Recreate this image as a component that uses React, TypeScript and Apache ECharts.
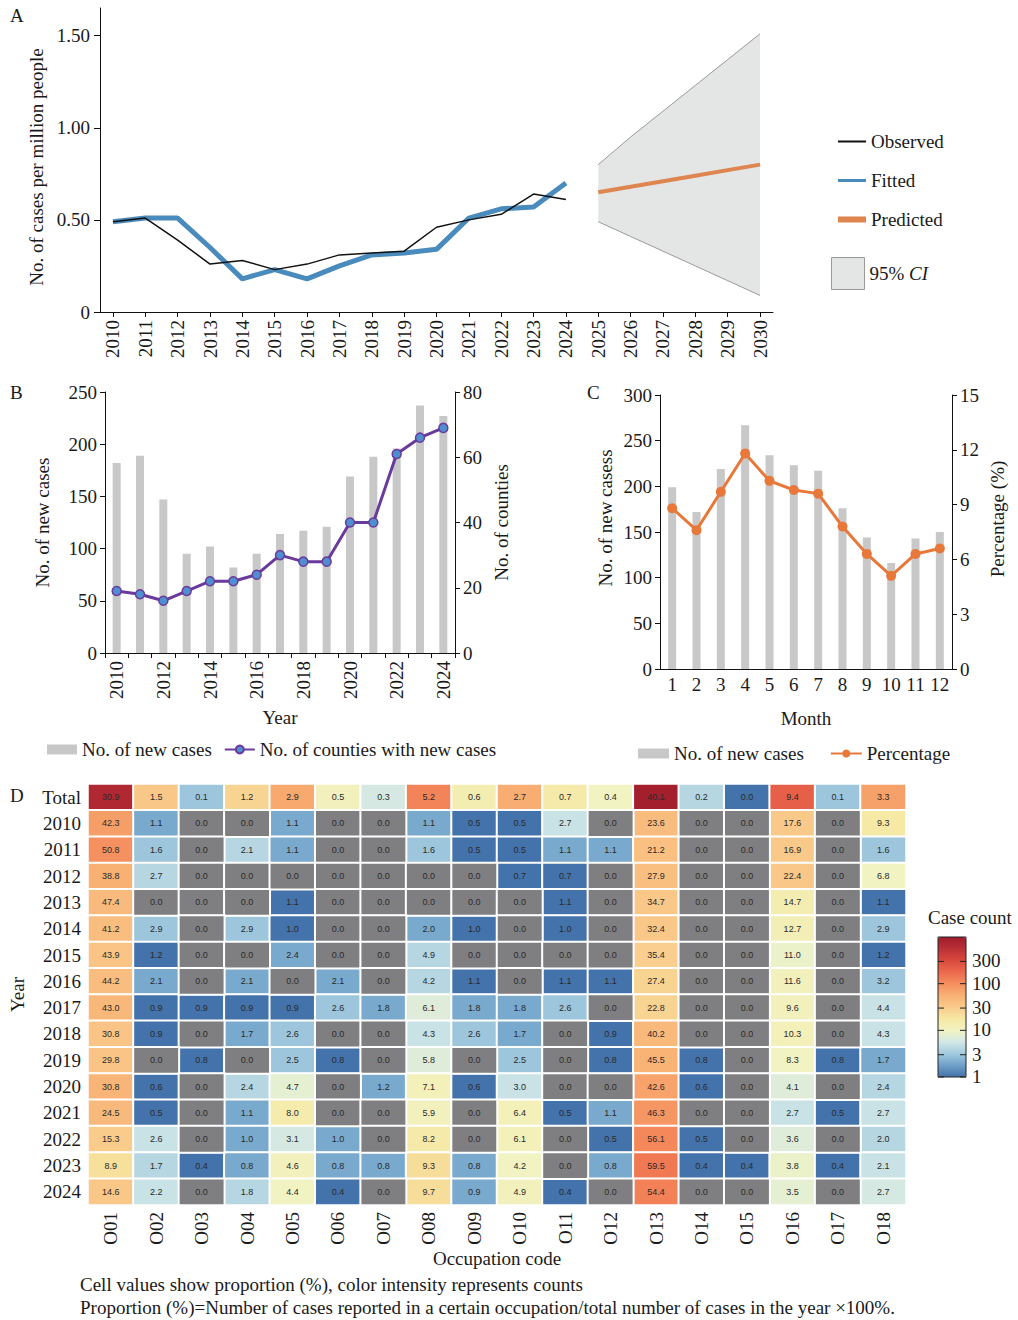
import React, { useEffect, useRef } from 'react';
import * as echarts from 'echarts';

// ---------- Panel A ----------
const yearsA = [2010, 2011, 2012, 2013, 2014, 2015, 2016, 2017, 2018, 2019, 2020, 2021, 2022, 2023, 2024, 2025, 2026, 2027, 2028, 2029, 2030];
const obsYears = [2010, 2011, 2012, 2013, 2014, 2015, 2016, 2017, 2018, 2019, 2020, 2021, 2022, 2023, 2024];
const observed = [0.49, 0.51, 0.39, 0.26, 0.28, 0.23, 0.26, 0.31, 0.32, 0.33, 0.46, 0.5, 0.53, 0.64, 0.61];
const fitted = [0.49, 0.51, 0.51, 0.35, 0.18, 0.23, 0.18, 0.25, 0.31, 0.32, 0.34, 0.51, 0.56, 0.57, 0.7];
const predYears = [2025, 2026, 2027, 2028, 2029, 2030];
const predicted = [0.65, 0.68, 0.71, 0.74, 0.77, 0.8];
const ciLower = [0.49, 0.41, 0.33, 0.25, 0.17, 0.09];
const ciUpper = [0.8, 0.95, 1.09, 1.23, 1.37, 1.51];
const yTicksA = [0, 0.5, 1, 1.5];

// ---------- Panel B ----------
const yearCats = ['2010', '2011', '2012', '2013', '2014', '2015', '2016', '2017', '2018', '2019', '2020', '2021', '2022', '2023', '2024'];
const newCases = [182, 189, 147, 95, 102, 82, 95, 114, 117, 121, 169, 188, 196, 237, 227];
const counties = [19, 18, 16, 19, 22, 22, 24, 30, 28, 28, 40, 40, 61, 66, 69];

// ---------- Panel C ----------
const months = ['1', '2', '3', '4', '5', '6', '7', '8', '9', '10', '11', '12'];
const monthCases = [199, 172, 219, 267, 234, 223, 217, 176, 144, 116, 143, 150];
const monthPct = [8.8, 7.6, 9.7, 11.8, 10.3, 9.8, 9.6, 7.8, 6.3, 5.1, 6.3, 6.6];

// ---------- Panel D ----------
const occCodes = ['O01', 'O02', 'O03', 'O04', 'O05', 'O06', 'O07', 'O08', 'O09', 'O10', 'O11', 'O12', 'O13', 'O14', 'O15', 'O16', 'O17', 'O18'];
const rowLabels = ['Total', ...yearCats];
const pctTotal = [30.9, 1.5, 0.1, 1.2, 2.9, 0.5, 0.3, 5.2, 0.6, 2.7, 0.7, 0.4, 40.1, 0.2, 0.0, 9.4, 0.1, 3.3];
const pct2010 = [42.3, 1.1, 0.0, 0.0, 1.1, 0.0, 0.0, 1.1, 0.5, 0.5, 2.7, 0.0, 23.6, 0.0, 0.0, 17.6, 0.0, 9.3];
const pct2011 = [50.8, 1.6, 0.0, 2.1, 1.1, 0.0, 0.0, 1.6, 0.5, 0.5, 1.1, 1.1, 21.2, 0.0, 0.0, 16.9, 0.0, 1.6];
const pct2012 = [38.8, 2.7, 0.0, 0.0, 0.0, 0.0, 0.0, 0.0, 0.0, 0.7, 0.7, 0.0, 27.9, 0.0, 0.0, 22.4, 0.0, 6.8];
const pct2013 = [47.4, 0.0, 0.0, 0.0, 1.1, 0.0, 0.0, 0.0, 0.0, 0.0, 1.1, 0.0, 34.7, 0.0, 0.0, 14.7, 0.0, 1.1];
const pct2014 = [41.2, 2.9, 0.0, 2.9, 1.0, 0.0, 0.0, 2.0, 1.0, 0.0, 1.0, 0.0, 32.4, 0.0, 0.0, 12.7, 0.0, 2.9];
const pct2015 = [43.9, 1.2, 0.0, 0.0, 2.4, 0.0, 0.0, 4.9, 0.0, 0.0, 0.0, 0.0, 35.4, 0.0, 0.0, 11.0, 0.0, 1.2];
const pct2016 = [44.2, 2.1, 0.0, 2.1, 0.0, 2.1, 0.0, 4.2, 1.1, 0.0, 1.1, 1.1, 27.4, 0.0, 0.0, 11.6, 0.0, 3.2];
const pct2017 = [43.0, 0.9, 0.9, 0.9, 0.9, 2.6, 1.8, 6.1, 1.8, 1.8, 2.6, 0.0, 22.8, 0.0, 0.0, 9.6, 0.0, 4.4];
const pct2018 = [30.8, 0.9, 0.0, 1.7, 2.6, 0.0, 0.0, 4.3, 2.6, 1.7, 0.0, 0.9, 40.2, 0.0, 0.0, 10.3, 0.0, 4.3];
const pct2019 = [29.8, 0.0, 0.8, 0.0, 2.5, 0.8, 0.0, 5.8, 0.0, 2.5, 0.0, 0.8, 45.5, 0.8, 0.0, 8.3, 0.8, 1.7];
const pct2020 = [30.8, 0.6, 0.0, 2.4, 4.7, 0.0, 1.2, 7.1, 0.6, 3.0, 0.0, 0.0, 42.6, 0.6, 0.0, 4.1, 0.0, 2.4];
const pct2021 = [24.5, 0.5, 0.0, 1.1, 8.0, 0.0, 0.0, 5.9, 0.0, 6.4, 0.5, 1.1, 46.3, 0.0, 0.0, 2.7, 0.5, 2.7];
const pct2022 = [15.3, 2.6, 0.0, 1.0, 3.1, 1.0, 0.0, 8.2, 0.0, 6.1, 0.0, 0.5, 56.1, 0.5, 0.0, 3.6, 0.0, 2.0];
const pct2023 = [8.9, 1.7, 0.4, 0.8, 4.6, 0.8, 0.8, 9.3, 0.8, 4.2, 0.0, 0.8, 59.5, 0.4, 0.4, 3.8, 0.4, 2.1];
const pct2024 = [14.6, 2.2, 0.0, 1.8, 4.4, 0.4, 0.0, 9.7, 0.9, 4.9, 0.4, 0.0, 54.4, 0.0, 0.0, 3.5, 0.0, 2.7];
const colorbarTicks = [300, 100, 30, 10, 3, 1];

const pctRows = [pct2010, pct2011, pct2012, pct2013, pct2014, pct2015, pct2016, pct2017, pct2018, pct2019, pct2020, pct2021, pct2022, pct2023, pct2024];

const SERIF = '"Liberation Serif", "Times New Roman", Times, serif';
const SANS = '"Liberation Sans", Arial, sans-serif';
const TXT = '#1a1a1a';
const ZERO_GRAY = '#7f7f81';

function buildOption() {
  const yearCounts = pctRows.map((row, r) => row.map((p) => Math.round((p * newCases[r]) / 100)));
  const totalCounts = occCodes.map((_, c) => yearCounts.reduce((s, row) => s + row[c], 0));
  const allPct = [pctTotal, ...pctRows];
  const allCounts = [totalCounts, ...yearCounts];
  const heatData: any[] = [];
  const zeroData: any[] = [];
  allPct.forEach((row, r) =>
    row.forEach((p, c) => {
      const n = allCounts[r][c];
      if (n > 0) heatData.push([c, r, Math.log10(n), p]);
      else zeroData.push([c, r, 0, p]);
    })
  );

  const label = (extra: any = {}) => ({ color: TXT, fontSize: 19, fontFamily: SERIF, ...extra });
  const line = { show: true, lineStyle: { color: '#111', width: 1 } };
  const tick = (extra: any = {}) => ({ show: true, length: 5, lineStyle: { color: '#111', width: 1 }, ...extra });
  const nameStyle = (extra: any = {}) => ({ color: TXT, fontSize: 19, fontFamily: SERIF, ...extra });

  // colorbar graphics
  const cbLeft = 938, cbTop = 937, cbW = 28, cbH = 140;
  const cbY = (v: number) => cbTop + (1 - Math.log10(v) / 3) * cbH;
  const cbGraphics: any[] = [];
  colorbarTicks.forEach((v) => {
    const y = cbY(v);
    cbGraphics.push({ type: 'text', left: cbLeft + cbW + 6, top: y - 10, style: { text: String(v), fontSize: 19, fontFamily: SERIF, fill: TXT } });
    cbGraphics.push({ type: 'line', shape: { x1: cbLeft, y1: y, x2: cbLeft + 6, y2: y }, style: { stroke: '#222', lineWidth: 1 }, z: 100 });
    cbGraphics.push({ type: 'line', shape: { x1: cbLeft + cbW - 6, y1: y, x2: cbLeft + cbW, y2: y }, style: { stroke: '#222', lineWidth: 1 }, z: 100 });
  });
  cbGraphics.push({ type: 'rect', shape: { x: cbLeft, y: cbTop, width: cbW, height: cbH }, style: { fill: 'none', stroke: '#222', lineWidth: 1 }, z: 100 });
  cbGraphics.push({ type: 'text', left: 928, top: 908, style: { text: 'Case count', fontSize: 19, fontFamily: SERIF, fill: TXT } });

  const panelLetter = (t: string, x: number, y: number) => ({ type: 'text', left: x, top: y, style: { text: t, fontSize: 19, fontFamily: SERIF, fill: TXT } });

  const heatLabel = {
    show: true, fontSize: 9, fontFamily: SANS, color: '#2a2a2a',
    formatter: (p: any) => Number(p.value[3]).toFixed(1),
  };

  return {
    animation: false,
    backgroundColor: '#ffffff',
    textStyle: { fontFamily: SERIF },
    grid: [
      { left: 100, top: 8, width: 673, height: 304 },
      { left: 105, top: 392, width: 350, height: 261 },
      { left: 660, top: 395, width: 292, height: 274 },
      { left: 87, top: 784, width: 819, height: 421 },
    ],
    xAxis: [
      {
        type: 'value', gridIndex: 0, min: 2009.6, max: 2030.4,
        axisLine: { ...line, onZero: false },
        axisTick: tick({ customValues: yearsA }),
        axisLabel: label({ customValues: yearsA, rotate: 90, margin: 8, formatter: (v: number) => String(v) }),
        splitLine: { show: false },
      },
      {
        type: 'category', gridIndex: 1, data: yearCats, boundaryGap: true,
        axisLine: line,
        axisTick: tick({ interval: 0, alignWithLabel: false }),
        axisLabel: label({ interval: 1, rotate: 90, margin: 8 }),
        name: 'Year', nameLocation: 'middle', nameGap: 55, nameTextStyle: nameStyle(),
      },
      {
        type: 'category', gridIndex: 2, data: months, boundaryGap: true,
        axisLine: line,
        axisTick: { show: false },
        axisLabel: label({ interval: 0, margin: 6 }),
        name: 'Month', nameLocation: 'middle', nameGap: 40, nameTextStyle: nameStyle(),
      },
      {
        type: 'category', gridIndex: 3, data: occCodes,
        axisLine: { show: false }, axisTick: { show: false },
        axisLabel: label({ interval: 0, rotate: 90, margin: 7 }),
        splitArea: { show: false },
        name: 'Occupation code', nameLocation: 'middle', nameGap: 43, nameTextStyle: nameStyle(),
      },
    ],
    yAxis: [
      {
        type: 'value', gridIndex: 0, min: 0, max: 1.65,
        axisLine: line,
        axisTick: tick({ customValues: yTicksA, length: 6 }),
        axisLabel: label({ customValues: yTicksA, margin: 10, formatter: (v: number) => (v === 0 ? '0' : v.toFixed(2)) }),
        splitLine: { show: false },
        name: 'No. of cases per million people', nameLocation: 'middle', nameGap: 52, nameRotate: 90,
        nameTextStyle: nameStyle({ padding: [0, 14, 0, 0] }),
      },
      {
        type: 'value', gridIndex: 1, min: 0, max: 250, interval: 50, position: 'left',
        axisLine: line, axisTick: tick(), axisLabel: label({ margin: 8 }), splitLine: { show: false },
        name: 'No. of new cases', nameLocation: 'middle', nameGap: 53, nameTextStyle: nameStyle(),
      },
      {
        type: 'value', gridIndex: 1, min: 0, max: 80, interval: 20, position: 'right',
        axisLine: line, axisTick: tick(), axisLabel: label({ margin: 8 }), splitLine: { show: false },
        name: 'No. of counties', nameLocation: 'middle', nameGap: 37, nameTextStyle: nameStyle(),
      },
      {
        type: 'value', gridIndex: 2, min: 0, max: 300, interval: 50, position: 'left',
        axisLine: line, axisTick: tick(), axisLabel: label({ margin: 8 }), splitLine: { show: false },
        name: 'No. of new casess', nameLocation: 'middle', nameGap: 45, nameTextStyle: nameStyle({ padding: [0, 0, 0, 28] }),
      },
      {
        type: 'value', gridIndex: 2, min: 0, max: 15, interval: 3, position: 'right',
        axisLine: line, axisTick: tick(), axisLabel: label({ margin: 8 }), splitLine: { show: false },
        name: 'Percentage (%)', nameLocation: 'middle', nameGap: 36, nameTextStyle: nameStyle({ padding: [0, 0, 0, 26] }),
      },
      {
        type: 'category', gridIndex: 3, data: rowLabels, inverse: true,
        axisLine: { show: false }, axisTick: { show: false },
        axisLabel: label({ interval: 0, margin: 7 }),
        splitArea: { show: false },
        name: 'Year', nameLocation: 'middle', nameGap: 61, nameTextStyle: nameStyle(),
      },
    ],
    legend: [
      {
        orient: 'vertical', left: 830, top: 127, itemWidth: 28, itemHeight: 2, itemGap: 20,
        textStyle: { color: TXT, fontSize: 19, fontFamily: SERIF },
        data: [
          { name: 'Observed', lineStyle: { width: 2 }, itemStyle: { opacity: 0 } },
          { name: 'Fitted', lineStyle: { width: 3 }, itemStyle: { opacity: 0 } },
          { name: 'Predicted', lineStyle: { width: 6 }, itemStyle: { opacity: 0 } },
        ],
        selectedMode: false,
      },
      {
        orient: 'vertical', left: 826, top: 252, itemWidth: 33, itemHeight: 32,
        textStyle: { color: TXT, fontSize: 19, fontFamily: SERIF, rich: { i: { fontStyle: 'italic', fontSize: 19, fontFamily: SERIF, color: TXT } } },
        formatter: () => '95% {i|CI}',
        data: [{ name: '95% CI', icon: 'rect', itemStyle: { color: '#e4e5e5', borderColor: '#9a9a9a', borderWidth: 1 } }],
        selectedMode: false,
      },
      {
        left: 42, top: 735, itemWidth: 30, itemHeight: 10, itemGap: 12,
        textStyle: { color: TXT, fontSize: 19, fontFamily: SERIF },
        data: [{ name: 'No. of new cases', icon: 'rect' }, { name: 'No. of counties with new cases' }],
        selectedMode: false,
      },
      {
        left: 633, top: 739, itemWidth: 31, itemHeight: 10, itemGap: 26,
        textStyle: { color: TXT, fontSize: 19, fontFamily: SERIF },
        data: [{ name: 'No. of new cases', icon: 'rect' }, { name: 'Percentage' }],
        selectedMode: false,
      },
    ],
    visualMap: [
      {
        type: 'continuous', seriesIndex: 8, dimension: 2, min: 0, max: 3,
        calculable: false, orient: 'vertical', left: cbLeft, top: cbTop, itemWidth: cbW, itemHeight: cbH,
        padding: 0, text: null, hoverLink: false,
        inRange: {
          color: ['#4472ab', '#6fa0c8', '#a2cadf', '#d2e8e6', '#f1f3c3', '#f6e8a4', '#f9c98a', '#f8b274', '#f58e5e', '#ec6a4e', '#d9483c', '#b93036', '#a01c2c'],
        },
      },
      {
        type: 'continuous', seriesIndex: 9, dimension: 2, min: 0, max: 1, show: false,
        inRange: { color: [ZERO_GRAY, ZERO_GRAY] },
      },
    ],
    graphic: [
      panelLetter('A', 10, 6),
      panelLetter('B', 10, 383),
      panelLetter('C', 587, 383),
      panelLetter('D', 10, 786),
      { type: 'text', left: 80, top: 1275, style: { text: 'Cell values show proportion (%), color intensity represents counts', fontSize: 19, fontFamily: SERIF, fill: TXT } },
      { type: 'text', left: 80, top: 1298, style: { text: 'Proportion (%)=Number of cases reported in a certain occupation/total number of cases in the year \u00d7100%.', fontSize: 19, fontFamily: SERIF, fill: TXT } },
      ...cbGraphics,
    ],
    series: [
      {
        name: 'Observed', type: 'line', xAxisIndex: 0, yAxisIndex: 0, symbol: 'none',
        data: obsYears.map((y, i) => [y, observed[i]]),
        lineStyle: { color: '#111', width: 1.5 }, itemStyle: { color: '#111' }, z: 4,
      },
      {
        name: 'Fitted', type: 'line', xAxisIndex: 0, yAxisIndex: 0, symbol: 'none',
        data: obsYears.map((y, i) => [y, fitted[i]]),
        lineStyle: { color: '#4a8bbd', width: 5 }, itemStyle: { color: '#2f7ab5' }, z: 3,
      },
      {
        name: 'Predicted', type: 'line', xAxisIndex: 0, yAxisIndex: 0, symbol: 'none',
        data: predYears.map((y, i) => [y, predicted[i]]),
        lineStyle: { color: '#de8550', width: 4 }, itemStyle: { color: '#e08a55' }, z: 4,
      },
      {
        name: '95% CI', type: 'custom', xAxisIndex: 0, yAxisIndex: 0, z: 1,
        data: predYears.map((y, i) => [y, ciLower[i], ciUpper[i]]),
        encode: { x: 0, y: [1, 2] },
        itemStyle: { color: '#e4e5e5' },
        renderItem: (params: any, api: any) => {
          if (params.dataIndex !== 0) return { type: 'group', children: [] };
          const up = predYears.map((y, i) => api.coord([y, ciUpper[i]]));
          const lo = predYears.map((y, i) => api.coord([y, ciLower[i]]));
          const poly = [...up, ...[...lo].reverse()];
          return {
            type: 'group',
            children: [
              { type: 'polygon', shape: { points: poly }, style: { fill: '#e4e5e5', stroke: 'none' } },
              { type: 'polyline', shape: { points: up }, style: { fill: 'none', stroke: '#9a9a9a', lineWidth: 1 } },
              { type: 'polyline', shape: { points: lo }, style: { fill: 'none', stroke: '#9a9a9a', lineWidth: 1 } },
            ],
          };
        },
      },
      {
        name: 'No. of new cases', type: 'bar', xAxisIndex: 1, yAxisIndex: 1, barWidth: 8,
        data: newCases, itemStyle: { color: '#c8c8c8' },
      },
      {
        name: 'No. of counties with new cases', type: 'line', xAxisIndex: 1, yAxisIndex: 2,
        data: counties, symbol: 'circle', symbolSize: 9,
        lineStyle: { color: '#6a3a9c', width: 3 },
        itemStyle: { color: '#4f8fd0', borderColor: '#6a3a9c', borderWidth: 1.5 }, z: 5,
      },
      {
        name: 'No. of new cases', type: 'bar', xAxisIndex: 2, yAxisIndex: 3, barWidth: 8,
        data: monthCases, itemStyle: { color: '#c8c8c8' },
      },
      {
        name: 'Percentage', type: 'line', xAxisIndex: 2, yAxisIndex: 4,
        data: monthPct, symbol: 'circle', symbolSize: 10,
        lineStyle: { color: '#e8773a', width: 3 },
        itemStyle: { color: '#e8773a' }, z: 5,
      },
      {
        name: 'Occupation', type: 'heatmap', xAxisIndex: 3, yAxisIndex: 5,
        data: heatData,
        itemStyle: { borderColor: '#ffffff', borderWidth: 2 },
        label: heatLabel,
        emphasis: { disabled: true },
      },
      {
        name: 'Occupation zero', type: 'heatmap', xAxisIndex: 3, yAxisIndex: 5,
        data: zeroData,
        itemStyle: { borderColor: '#ffffff', borderWidth: 2 },
        label: heatLabel,
        emphasis: { disabled: true },
      },
    ],
  };
}

export default function App() {
  const ref = useRef<HTMLDivElement>(null);
  useEffect(() => {
    if (!ref.current) return;
    const chart = echarts.init(ref.current, null, { renderer: 'svg' });
    chart.setOption(buildOption() as any);
    return () => chart.dispose();
  }, []);
  return (
    <div
      ref={ref}
      style={{ position: 'absolute', left: 0, top: 0, width: 1018, height: 1320, background: '#ffffff' }}
    />
  );
}
